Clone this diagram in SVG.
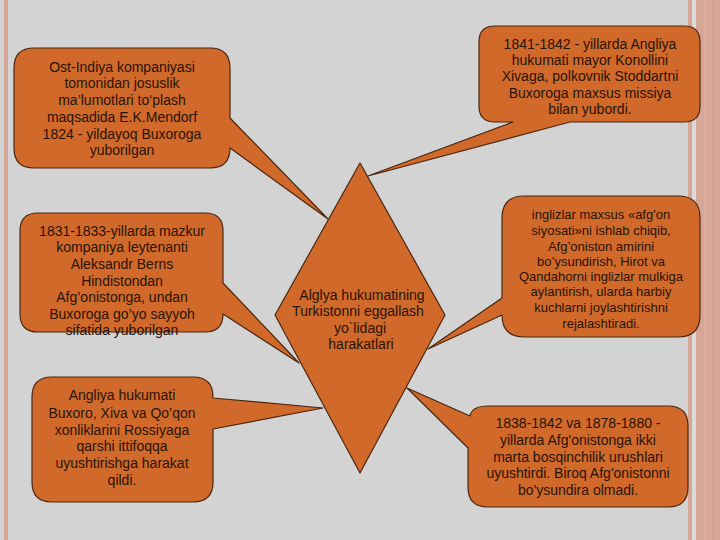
<svg xmlns="http://www.w3.org/2000/svg" width="720" height="540" viewBox="0 0 720 540">
<style>
.bg{fill:#d3d3d3}
.stripe{fill:#d6a796}
.shape{fill:#d0692a;stroke:#4a2710;stroke-width:1.2;stroke-linejoin:round}
text{font-family:"Liberation Sans",Arial,sans-serif;font-size:14px;fill:#2a1408;text-anchor:middle}
.small{font-size:13px}
</style>
<rect class="bg" x="0" y="0" width="720" height="540"/>
<rect class="stripe" x="4" y="0" width="4" height="540"/>
<rect class="stripe" x="688" y="0" width="4" height="540"/>
<rect x="692" y="0" width="4" height="540" fill="#dadada"/>
<rect class="stripe" x="696" y="0" width="24" height="540"/>
<rect x="704" y="0" width="2" height="540" fill="#dcb0a0"/>
<rect x="712" y="0" width="2" height="540" fill="#cf9f8e"/>

<g id="center">
<polygon class="shape" points="360,163 445,315 360,473 275,315"/>
<text x="362" y="300">Alglya hukumatining</text>
<text x="358" y="315.5">Turkistonni eggallash</text>
<text x="360" y="333">yo`lidagi</text>
<text x="361" y="349">harakatlari</text>
</g>

<g id="connectors"></g>

<g id="box1">
<path class="shape" d="M34,48 H210 Q230,48 230,68 V118 L328,219 L230,148 Q230,168 210,168 H34 Q14,168 14,148 V68 Q14,48 34,48 Z"/>
<text x="122" y="71.5">Ost-Indiya kompaniyasi</text>
<text x="122" y="88">tomonidan josuslik</text>
<text x="122" y="105">ma’lumotlari to‘plash</text>
<text x="122" y="121.5">maqsadida E.K.Mendorf</text>
<text x="122" y="138.5">1824 - yildayoq Buxoroga</text>
<text x="122" y="155">yuborilgan</text>
</g>

<g id="box2">
<path class="shape" d="M495,26 H684 Q700,26 700,42 V106 Q700,122 684,122 H570 L368,176 L513,122 H495 Q479,122 479,106 V42 Q479,26 495,26 Z"/>
<text x="590" y="49">1841-1842 - yillarda Angliya</text>
<text x="590" y="65">hukumati mayor Konollini</text>
<text x="590" y="81">Xivaga, polkovnik Stoddartni</text>
<text x="590" y="97.5">Buxoroga maxsus missiya</text>
<text x="590" y="114">bilan yubordi.</text>
</g>

<g id="box3">
<path class="shape" d="M38,213 H205 Q223,213 223,231 V283 L299,363 L223,314 Q223,332 205,332 H38 Q20,332 20,314 V231 Q20,213 38,213 Z"/>
<text x="122" y="235.5">1831-1833-yillarda mazkur</text>
<text x="122" y="252">kompaniya leytenanti</text>
<text x="122" y="269">Aleksandr Berns</text>
<text x="122" y="285.5">Hindistondan</text>
<text x="122" y="302">Afg’onistonga, undan</text>
<text x="122" y="318.5">Buxoroga go’yo sayyoh</text>
<text x="122" y="335">sifatida yuborilgan</text>
</g>

<g id="box4">
<path class="shape" d="M524,196 H678 Q700,196 700,218 V315 Q700,337 678,337 H524 Q502,337 502,315 L428,349 L502,298 V218 Q502,196 524,196 Z"/>
<text class="small" x="601" y="218.5">inglizlar maxsus «afg'on</text>
<text class="small" x="601" y="235">siyosati»ni ishlab chiqib,</text>
<text class="small" x="601" y="250.5">Afg’oniston amirini</text>
<text class="small" x="601" y="265.5">bo’ysundirish, Hirot va</text>
<text class="small" x="601" y="280.5">Qandahorni inglizlar mulkiga</text>
<text class="small" x="601" y="296">aylantirish, ularda harbiy</text>
<text class="small" x="601" y="312">kuchlarni joylashtirishni</text>
<text class="small" x="601" y="327.5">rejalashtiradi.</text>
</g>

<g id="box5">
<path class="shape" d="M52,377 H193 Q213,377 213,397 V398 L323,408 L213,429 V482 Q213,502 193,502 H52 Q32,502 32,482 V397 Q32,377 52,377 Z"/>
<text x="122" y="400">Angliya hukumati</text>
<text x="122" y="417.5">Buxoro, Xiva va Qo’qon</text>
<text x="122" y="435">xonliklarini Rossiyaga</text>
<text x="122" y="451">qarshi ittifoqqa</text>
<text x="122" y="467.5">uyushtirishga harakat</text>
<text x="122" y="484.5">qildi.</text>
</g>

<g id="box6">
<path class="shape" d="M488,406 H668 Q688,406 688,426 V487 Q688,507 668,507 H488 Q468,507 468,487 V448 L407,388 L470,416 Q472,406 488,406 Z"/>
<text x="578" y="427.5">1838-1842 va 1878-1880 -</text>
<text x="578" y="445">yillarda Afg'onistonga ikki</text>
<text x="578" y="461.5">marta bosqinchilik urushlari</text>
<text x="578" y="478">uyushtirdi. Biroq Afg'onistonni</text>
<text x="578" y="495">bo'ysundira olmadi.</text>
</g>
</svg>
